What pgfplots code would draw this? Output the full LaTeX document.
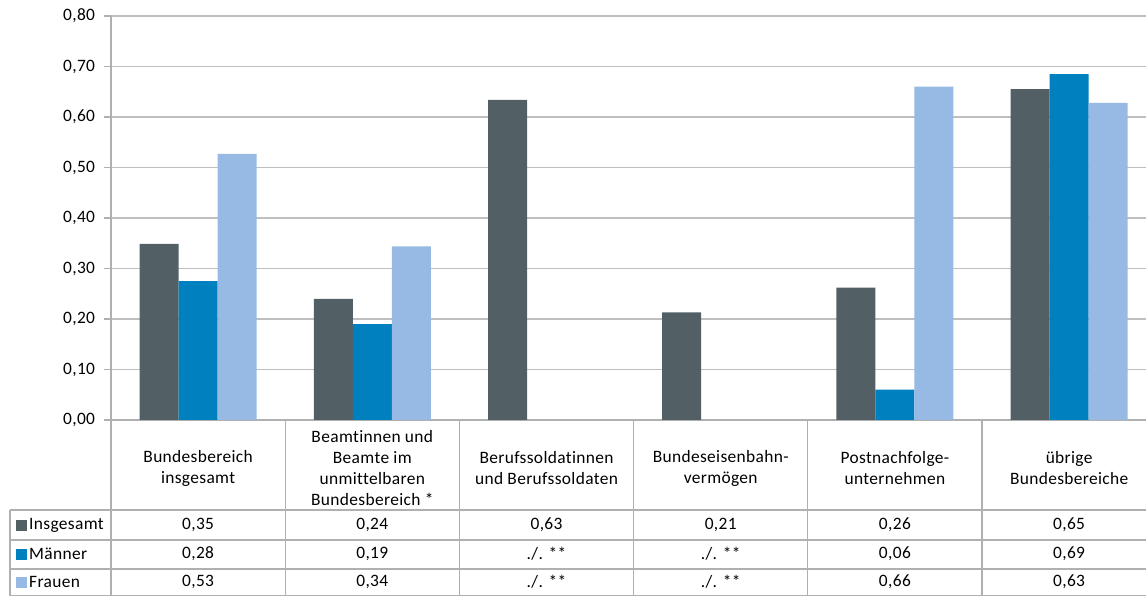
\documentclass[border=0pt]{standalone}
\usepackage{fontspec}
\setmainfont{Carlito}[Ligatures=NoCommon, LetterSpace=2]
\usepackage{pgfplots}
\pgfplotsset{compat=1.18}
\usepackage{pgfplotstable}

\definecolor{cIns}{HTML}{525F65}
\definecolor{cMan}{HTML}{0080BF}
\definecolor{cFra}{HTML}{96BAE3}
\definecolor{cGrid}{HTML}{BFBFBF}
\definecolor{cLine}{HTML}{B0B0B0}

% values as drawn (bar heights)
\pgfplotstableread{
x ins man fra
0 0.349 0.275 0.527
1 0.240 0.190 0.344
2 0.634 nan nan
3 0.213 nan nan
4 0.262 0.060 0.660
5 0.655 0.685 0.628
}\data

\begin{document}
\fontsize{17.4}{21}\selectfont
\begin{tikzpicture}
\begin{axis}[
  name=ax,
  scale only axis, width=1035pt, height=404pt,
  xmin=-0.5, xmax=5.441, ymin=0, ymax=0.8,
  ybar=0pt, bar width=39pt,
  axis lines*=left,
  axis line style={cLine, line width=1.2pt},
  ymajorgrids, grid style={cGrid, line width=1.2pt},
  ytick={0,0.1,0.2,0.3,0.4,0.5,0.6,0.7,0.8},
  yticklabel style={xshift=-3pt, /pgf/number format/.cd, use comma, fixed, fixed zerofill, precision=2, assume math mode=true},
  ytick style={cLine, line width=1.2pt},
  tick align=outside, major tick length=7pt,
  xtick={0,...,5},
  x tick style={draw=none},
  xticklabels={Bundesbereich\\insgesamt,
    Beamtinnen und\\Beamte im\\unmittelbaren\\Bundesbereich *,
    Berufssoldatinnen\\und Berufssoldaten,
    Bundeseisenbahn-\\vermögen,
    Postnachfolge-\\unternehmen,
    übrige\\Bundesbereiche},
  xticklabel style={align=center, anchor=center, yshift=-41pt},
  clip=false,
]
\addplot[fill=cIns, draw=none] table[x=x, y=ins] {\data};
\addplot[fill=cMan, draw=none] table[x=x, y=man] {\data};
\addplot[fill=cFra, draw=none] table[x=x, y=fra] {\data};
\end{axis}

% data table below the chart, in pixel-like units from the page's lower left
\begin{scope}[shift={(ax.south west)}, xshift=-111pt, yshift=-176pt, x=1pt, y=1pt]
\begin{scope}[cLine, line width=1.2pt]
  \draw (10,86) -- (1146,86);
  \draw (10,56) -- (1146,56);
  \draw (10,27) -- (1146,27);
  \draw (10,0.6) -- (1146,0.6);
  \draw (10,0) -- (10,86);
  \draw (111,0) -- (111,176);
  \foreach \k in {1,...,5} \draw ({111+174.2*\k},0) -- ({111+174.2*\k},176);
\end{scope}

\fill[cIns] (16,65) rectangle (27,76);
\fill[cMan] (16,36) rectangle (27,47);
\fill[cFra] (16,8) rectangle (27,19);
\node[anchor=west, inner sep=0pt] at (29,71) {Insgesamt};
\node[anchor=west, inner sep=0pt] at (29,42) {Männer};
\node[anchor=west, inner sep=0pt] at (29,14) {Frauen};

\foreach \v [count=\i from 0] in {{0,35},{0,24},{0,63},{0,21},{0,26},{0,65}}
  \node at ({198.1+174.2*\i},71) {\v};
\foreach \v [count=\i from 0] in {{0,28},{0,19},{./. **},{./. **},{0,06},{0,69}}
  \node at ({198.1+174.2*\i},42) {\v};
\foreach \v [count=\i from 0] in {{0,53},{0,34},{./. **},{./. **},{0,66},{0,63}}
  \node at ({198.1+174.2*\i},14) {\v};

\pgfresetboundingbox
\path[use as bounding box] (0,0) rectangle (1146,596);
\end{scope}
\end{tikzpicture}
\end{document}
